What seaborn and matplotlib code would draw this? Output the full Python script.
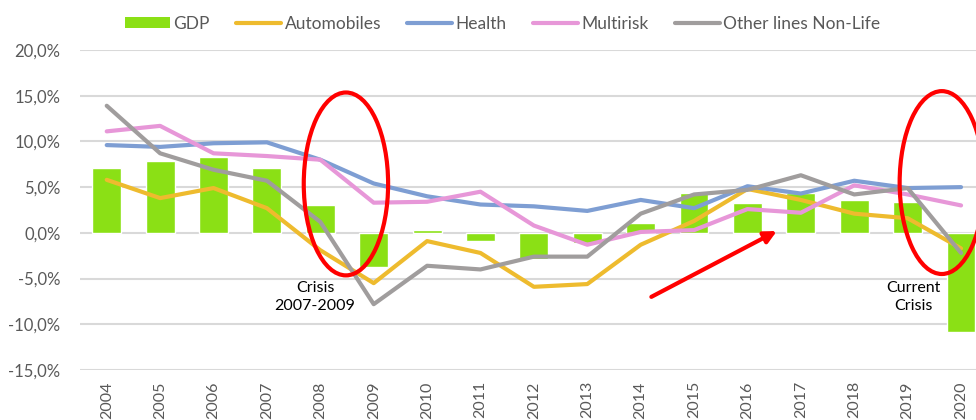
import matplotlib
matplotlib.use("Agg")
import matplotlib.pyplot as plt
from matplotlib.patches import Ellipse, Patch
from matplotlib.lines import Line2D
from matplotlib.ticker import FuncFormatter, MultipleLocator
import numpy as np
import pandas as pd
import seaborn as sns

# ---------------------------------------------------------------------------
# Data (annual growth, %)
# ---------------------------------------------------------------------------
YEARS = list(range(2004, 2021))
GDP = [7.1, 7.9, 8.3, 7.1, 3.1, -3.7, 0.3, -0.9, -2.9, -1.1, 1.1, 4.4, 3.3, 4.4, 3.6, 3.4, -10.8]
AUTOMOBILES = [5.8, 3.8, 4.9, 2.7, -1.9, -5.5, -0.9, -2.2, -5.9, -5.6, -1.3, 1.3, 4.8, 3.6, 2.1, 1.6, -1.7]
HEALTH = [9.6, 9.4, 9.8, 9.9, 8.0, 5.4, 4.0, 3.1, 2.9, 2.4, 3.6, 2.7, 5.1, 4.3, 5.7, 4.9, 5.0]
MULTIRISK = [11.1, 11.7, 8.7, 8.4, 8.0, 3.3, 3.4, 4.5, 0.8, -1.3, 0.1, 0.3, 2.6, 2.2, 5.2, 4.2, 3.0]
OTHER_NON_LIFE = [13.9, 8.7, 6.9, 5.7, 1.2, -7.8, -3.6, -4.0, -2.6, -2.6, 2.1, 4.2, 4.7, 6.3, 4.2, 4.9, -2.2]

SERIES = {
    "Automobiles": AUTOMOBILES,
    "Health": HEALTH,
    "Multirisk": MULTIRISK,
    "Other lines Non-Life": OTHER_NON_LIFE,
}
COLORS = {
    "GDP": "#8BE015",
    "Automobiles": "#EEBB2E",
    "Health": "#7E9ED3",
    "Multirisk": "#E797D8",
    "Other lines Non-Life": "#A09D9D",
}

sns.set_theme(style="white")
plt.rcParams["font.family"] = ["Lato", "DejaVu Sans"]
TEXT_GREY = "#595959"

bars_df = pd.DataFrame({"year": YEARS, "GDP": GDP})
lines_df = pd.DataFrame({"year": YEARS, **SERIES}).melt(
    id_vars="year", var_name="line", value_name="growth"
)

fig = plt.figure(figsize=(9.76, 4.2), dpi=100)
ax = fig.add_axes([0.082, 0.119, 0.918, 0.762])

sns.barplot(data=bars_df, x="year", y="GDP", native_scale=True,
            color=COLORS["GDP"], width=0.54, saturation=1, ax=ax, zorder=2)
sns.lineplot(data=lines_df, x="year", y="growth", hue="line",
             palette=COLORS, linewidth=3, legend=False, ax=ax, zorder=3)

# axes styling
ax.set_xlim(2003.5, 2020.28)
ax.set_ylim(-15, 20)
ax.yaxis.set_major_locator(MultipleLocator(5))
ax.yaxis.set_major_formatter(FuncFormatter(lambda v, _: f"{v:.1f}%".replace(".", ",")))
ax.set_xticks(YEARS)
ax.set_xticklabels([str(y) for y in YEARS], rotation=90)
ax.tick_params(axis="y", length=0, pad=14, labelsize=12, labelcolor=TEXT_GREY)
ax.tick_params(axis="x", length=0, pad=8, labelsize=11.5, labelcolor=TEXT_GREY)
ax.grid(axis="y", color="#D9D9D9", linewidth=1.5, zorder=0)
ax.set_axisbelow(True)
for s in ax.spines.values():
    s.set_visible(False)
ax.set_xlabel("")
ax.set_ylabel("")

# annotations
for cx, cy in [(2008.48, 5.35), (2019.64, 5.5)]:
    ax.add_patch(Ellipse((cx, cy), width=1.58, height=20, fill=False,
                         edgecolor="#FF0000", linewidth=3, zorder=5))
ax.annotate("", xy=(2016.55, 0.2), xytext=(2014.2, -7.0),
            arrowprops=dict(arrowstyle="-|>", color="#FF0000", lw=3,
                            mutation_scale=18, shrinkA=0, shrinkB=0), zorder=5)
ax.text(2007.9, -7.0, "Crisis\n2007-2009", ha="center", va="center",
        fontsize=11.5, color="black", linespacing=1.35, zorder=6)
ax.text(2019.1, -7.0, "Current\nCrisis", ha="center", va="center",
        fontsize=11.5, color="black", linespacing=1.35, zorder=6)

# legend
handles = [Patch(facecolor=COLORS["GDP"], edgecolor="none", label="GDP")]
handles += [Line2D([0], [0], color=COLORS[k], linewidth=3, label=k) for k in SERIES]
fig.legend(handles=handles, loc="center", bbox_to_anchor=(0.515, 0.943), ncol=5,
           frameon=False, fontsize=12.5, labelcolor=TEXT_GREY, handlelength=2.6,
           handleheight=0.6, handletextpad=0.2, columnspacing=1.5)

fig.savefig("out.png", dpi=100)
